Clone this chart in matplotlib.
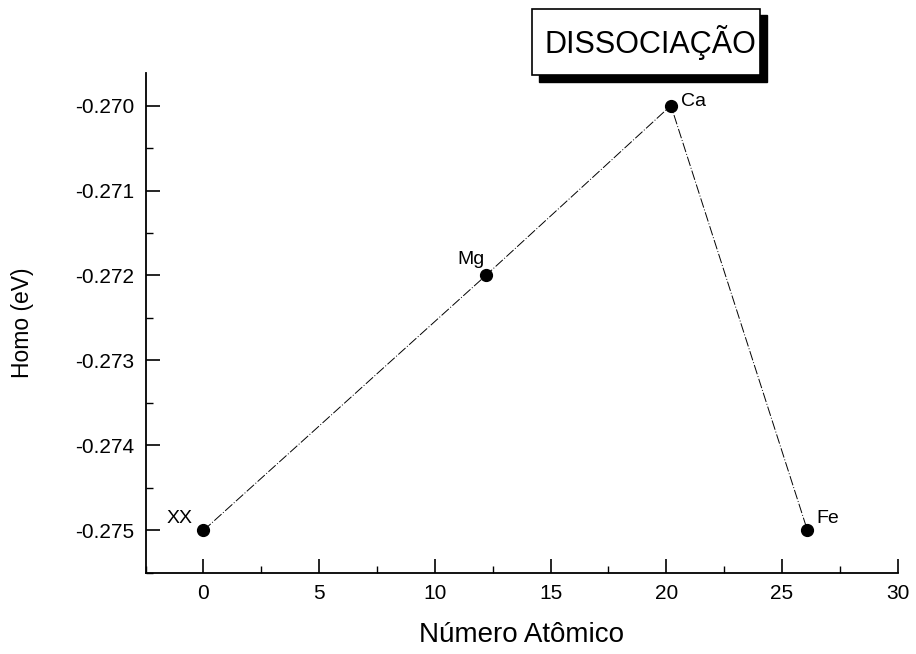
import matplotlib
matplotlib.use("Agg")
import matplotlib.pyplot as plt
from matplotlib.ticker import MultipleLocator, FormatStrFormatter

# data
elements = ["XX", "Mg", "Ca", "Fe"]
atomic_number = [0, 12.2, 20.2, 26.1]
homo = [-0.275, -0.272, -0.270, -0.275]

plt.rcParams["font.family"] = ["Liberation Sans", "DejaVu Sans"]

fig = plt.figure(figsize=(9.16, 6.54), dpi=100)
ax = fig.add_axes([0.159, 0.124, 0.821, 0.764])

ax.plot(atomic_number, homo, color="black", linewidth=0.7,
        linestyle=(0, (10, 2, 1, 2)), zorder=2)
ax.plot(atomic_number, homo, "o", color="black", markersize=8.5, zorder=3)

# point labels: (dx, dy in points, alignment)
offsets = {"XX": (-8, 5, "right"), "Mg": (-1, 8, "right"),
           "Ca": (7, 0, "left"), "Fe": (6.5, 5, "left")}
for name, x, y in zip(elements, atomic_number, homo):
    dx, dy, ha = offsets[name]
    ax.annotate(name, (x, y), xytext=(dx, dy), textcoords="offset points",
                ha=ha, va="baseline", fontsize=14)

ax.set_xlim(-2.5, 30)
ax.set_ylim(-0.2755, -0.26962)
ax.xaxis.set_major_locator(MultipleLocator(5))
ax.xaxis.set_minor_locator(MultipleLocator(2.5))
ax.yaxis.set_major_locator(MultipleLocator(0.001))
ax.yaxis.set_minor_locator(MultipleLocator(0.0005))
ax.yaxis.set_major_formatter(FormatStrFormatter("%.3f"))

ax.spines["top"].set_visible(False)
ax.spines["right"].set_visible(False)
ax.spines["left"].set_linewidth(1.3)
ax.spines["bottom"].set_linewidth(1.3)
ax.tick_params(which="major", direction="in", length=10, width=1.2,
               labelsize=15, pad=8)
ax.tick_params(which="minor", direction="in", length=5, width=1.0)

ax.set_xlabel("Número Atômico", fontsize=20, labelpad=14)
ax.set_ylabel("Homo (eV)", fontsize=16.5, labelpad=30)

# boxed title with drop shadow (figure coordinates)
fig.patches.append(plt.Rectangle((0.588, 0.875), 0.249, 0.102,
                                 transform=fig.transFigure,
                                 facecolor="black", edgecolor="black"))
fig.patches.append(plt.Rectangle((0.581, 0.885), 0.249, 0.102,
                                 transform=fig.transFigure,
                                 facecolor="white", edgecolor="black",
                                 linewidth=1.2))
fig.text(0.7096, 0.935, "DISSOCIAÇÃO", fontsize=22, ha="center",
         va="center")

fig.savefig("out.png", dpi=100)
